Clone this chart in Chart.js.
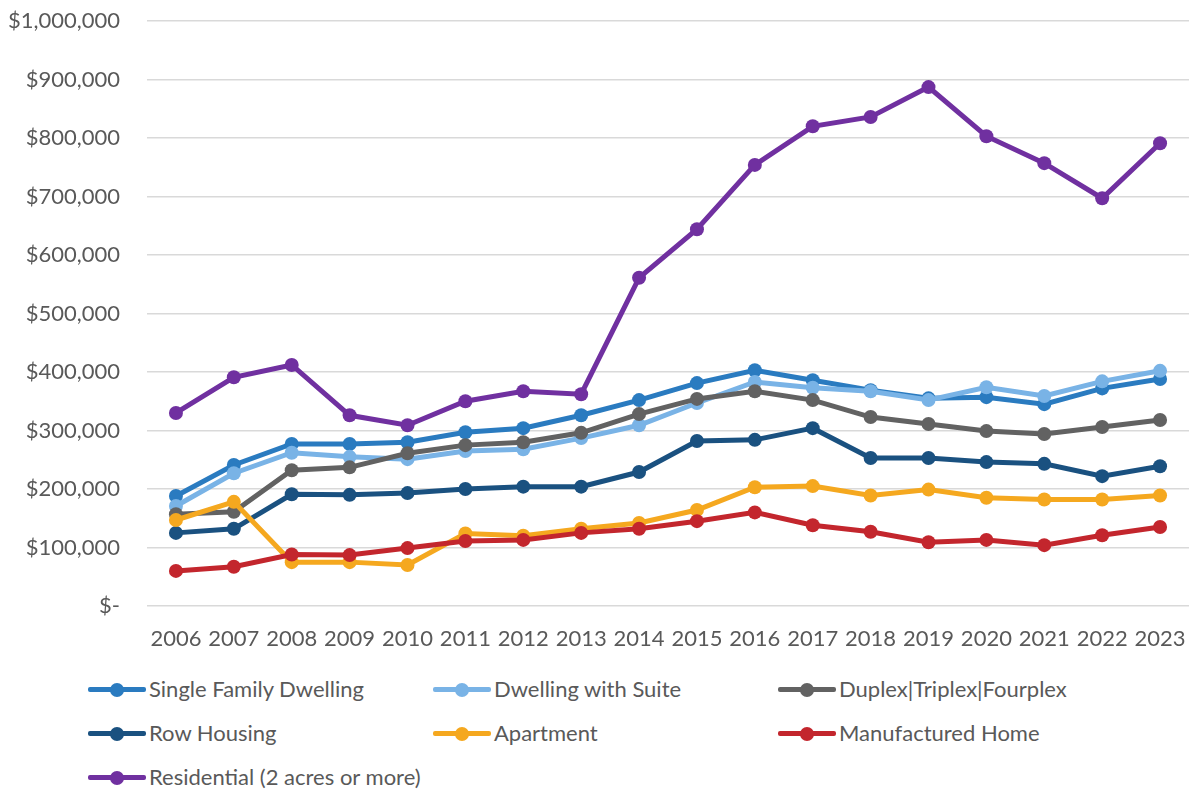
<!DOCTYPE html>
<html>
<head>
<meta charset="utf-8">
<script src="https://cdn.jsdelivr.net/npm/chart.js@4"></script>
<style>
    html, body { margin: 0; padding: 0; background: #fff; }
    #wrap { position: relative; width: 1196px; height: 791px; }
    #chart { position: absolute; left: 0; top: 0; }
    .legend { position: absolute; left: 0; top: 0; font-family: Lato, "Open Sans", sans-serif; font-size: 22px; color: #595959; }
    .item { position: absolute; height: 24px; line-height: 24px; white-space: nowrap; }
    .mark { position: absolute; left: 0; top: 10px; width: 58px; height: 5px; border-radius: 2px; }
    .mark i { position: absolute; left: 22px; top: -4.5px; width: 14px; height: 14px; border-radius: 50%; background: inherit; }
    .label { position: absolute; left: 61px; top: 0; }
</style>
</head>
<body>
<div id="wrap">
    <canvas id="chart" width="1196" height="660"></canvas>
    <div class="legend" id="legend"></div>
</div>
<script>
// 연도 (x축)
const years = ['2006', '2007', '2008', '2009', '2010', '2011', '2012', '2013', '2014',
               '2015', '2016', '2017', '2018', '2019', '2020', '2021', '2022', '2023'];

// 시리즈 이름
const seriesNames = [
    'Single Family Dwelling',
    'Dwelling with Suite',
    'Duplex|Triplex|Fourplex',
    'Row Housing',
    'Apartment',
    'Manufactured Home',
    'Residential (2 acres or more)'
];

// 시리즈 값
const singleFamily = [188000, 241000, 277000, 277000, 280000, 297000, 304000, 326000, 352000,
                      381000, 403000, 386000, 369000, 355000, 357000, 345000, 372000, 388000];
const withSuite    = [171000, 227000, 262000, 255000, 251000, 265000, 268000, 287000, 309000,
                      347000, 383000, 373000, 367000, 352000, 374000, 359000, 384000, 402000];
const duplex       = [157000, 161000, 232000, 237000, 261000, 275000, 280000, 296000, 328000,
                      354000, 367000, 352000, 323000, 311000, 299000, 294000, 306000, 318000];
const rowHousing   = [125000, 132000, 191000, 190000, 193000, 200000, 204000, 204000, 229000,
                      282000, 284000, 304000, 253000, 253000, 246000, 243000, 222000, 239000];
const apartment    = [147000, 178000, 75000, 75000, 70000, 124000, 120000, 132000, 142000,
                      164000, 203000, 205000, 189000, 199000, 185000, 182000, 182000, 189000];
const manufactured = [60000, 67000, 88000, 87000, 99000, 111000, 113000, 125000, 132000,
                      145000, 160000, 138000, 127000, 109000, 113000, 104000, 121000, 135000];
const residential  = [330000, 391000, 412000, 326000, 309000, 350000, 367000, 362000, 561000,
                      644000, 754000, 820000, 836000, 887000, 803000, 757000, 697000, 791000];

const seriesValues = [singleFamily, withSuite, duplex, rowHousing, apartment, manufactured, residential];
const seriesColors = ['#2a7bc0', '#79b3e6', '#626262', '#1a5180', '#f5a81f', '#c3262d', '#7030a0'];

const FONT = 'Lato, "Open Sans", sans-serif';

function money(v) {
    if (v === 0) return '$-';
    return '$' + v.toString().replace(/\B(?=(\d{3})+(?!\d))/g, ',');
}

const datasets = seriesNames.map((name, i) => ({
    label: name,
    data: seriesValues[i],
    borderColor: seriesColors[i],
    backgroundColor: seriesColors[i],
    borderWidth: 5,
    pointRadius: 7,
    pointBorderWidth: 0,
    pointBackgroundColor: seriesColors[i],
    tension: 0,
    order: seriesNames.length - i   // 엑셀처럼 뒤 시리즈가 위에 그려지도록
}));

new Chart(document.getElementById('chart'), {
    type: 'line',
    data: { labels: years, datasets: datasets },
    options: {
        responsive: false,
        animation: false,
        layout: { padding: { top: 21, right: 0, bottom: 0, left: 0 } },
        plugins: {
            legend: { display: false },
            tooltip: { enabled: false }
        },
        scales: {
            x: {
                offset: true,
                grid: { display: false },
                border: { display: false },
                ticks: { color: '#595959', font: { family: FONT, size: 22 }, padding: 12, maxRotation: 0 },
                afterFit: (s) => { s.height = 54; s.paddingLeft = 0; s.paddingRight = 0; }
            },
            y: {
                min: 0,
                max: 1000000,
                ticks: {
                    stepSize: 100000,
                    color: '#595959',
                    font: { family: FONT, size: 22 },
                    padding: 27,
                    callback: (v) => money(v)
                },
                grid: { color: '#d9d9d9', lineWidth: 1.5, drawTicks: false },
                border: { display: false },
                afterFit: (s) => { s.width = 147; s.paddingTop = 0; s.paddingBottom = 0; }
            }
        }
    }
});

// 범례 (HTML)
const legendPos = [[88, 677], [433, 677], [778, 677], [88, 721], [433, 721], [778, 721], [88, 765]];
const legend = document.getElementById('legend');
seriesNames.forEach((name, i) => {
    const item = document.createElement('div');
    item.className = 'item';
    item.style.left = legendPos[i][0] + 'px';
    item.style.top = legendPos[i][1] + 'px';
    item.innerHTML = `<div class="mark" style="background:${seriesColors[i]}"><i></i></div><span class="label">${name}</span>`;
    legend.appendChild(item);
});
</script>
</body>
</html>
